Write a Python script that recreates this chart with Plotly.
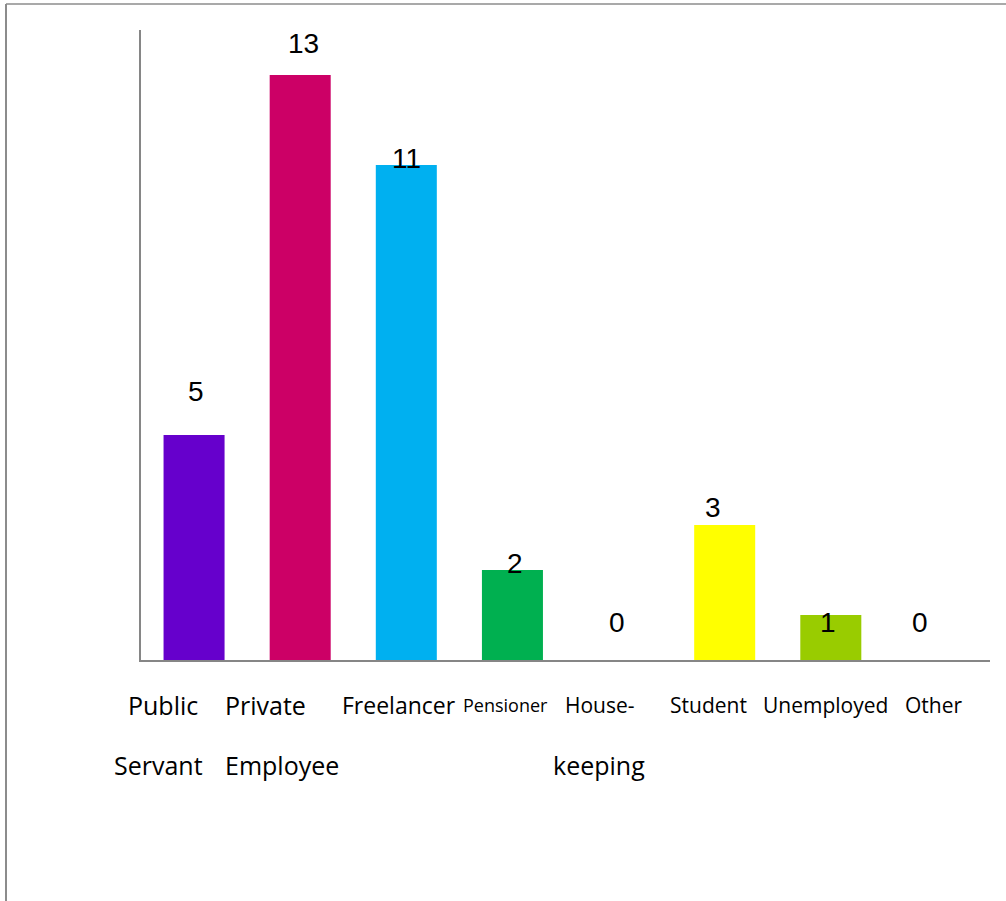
import plotly.graph_objects as go

# Occupation survey counts
categories = ["Public Servant", "Private Employee", "Freelancer", "Pensioner",
              "House-keeping", "Student", "Unemployed", "Other"]
counts = [5, 13, 11, 2, 0, 3, 1, 0]
bar_colors = ["#6600CC", "#CC0066", "#00B0F0", "#00B050",
              "#7F7F7F", "#FFFF00", "#99CC00", "#7F7F7F"]

# Two-line category captions under the axis
caption_line1 = ["Public", "Private", "Freelancer", "Pensioner",
                 "House-", "Student", "Unemployed", "Other"]
caption_line2 = ["Servant", "Employee", "", "", "keeping", "", "", ""]

# Text placement tweaks (pixels)
value_dy = [44, 32, 7, 7, 38, 18, -7, 38]
value_dx = [1.5, 3.5, 0, 2.5, -1.5, -11.5, -2.5, -16.5]
cap1_dx = [-31.5, -34.5, -7.5, -6.5, -18.5, -16.5, -5.5, -3.5]
cap1_size = [25, 25, 23, 18, 21, 21, 21, 21]
cap2_dx = [-36, -18, 0, 0, -19.5, 0, 0, 0]
cap2_size = [25, 25, 25, 25, 25, 25, 25, 25]

W, H = 1006, 901
L, R, T, B = 141, 990, 30, 660


def px_x(px):
    return (px - L) / (R - L)


def px_y(py):
    return (B - py) / (B - T)


fig = go.Figure()
fig.add_trace(go.Bar(
    x=list(range(len(categories))),
    y=counts,
    marker=dict(color=bar_colors, line=dict(width=0)),
    width=0.575,
    hovertext=categories,
))

value_font = dict(family="Liberation Sans, Arial, sans-serif", size=28, color="#000000")
for i, v in enumerate(counts):
    fig.add_annotation(
        x=i, y=v, xref="x", yref="y", text=str(v), showarrow=False,
        xanchor="center", yanchor="middle",
        xshift=value_dx[i], yshift=value_dy[i], font=value_font,
    )

cap_family = "Open Sans, Noto Sans, sans-serif"
for i in range(len(categories)):
    fig.add_annotation(
        x=i, y=0, xref="x", yref="paper", text=caption_line1[i], showarrow=False,
        xanchor="center", yanchor="middle", xshift=cap1_dx[i], yshift=-45,
        font=dict(family=cap_family, size=cap1_size[i], color="#000000"),
    )
    if caption_line2[i]:
        fig.add_annotation(
            x=i, y=0, xref="x", yref="paper", text=caption_line2[i], showarrow=False,
            xanchor="center", yanchor="middle", xshift=cap2_dx[i], yshift=-105,
            font=dict(family=cap_family, size=cap2_size[i], color="#000000"),
        )

# Outer frame (top and left edges)
fig.add_shape(type="line", xref="paper", yref="paper",
              x0=px_x(6), x1=px_x(1010), y0=px_y(4), y1=px_y(4),
              line=dict(color="#8C8C8C", width=1.5))
fig.add_shape(type="line", xref="paper", yref="paper",
              x0=px_x(6), x1=px_x(6), y0=px_y(4), y1=px_y(905),
              line=dict(color="#8C8C8C", width=2))

fig.update_layout(
    width=W, height=H,
    margin=dict(l=L, r=W - R, t=T, b=H - B),
    paper_bgcolor="#FFFFFF", plot_bgcolor="#FFFFFF",
    showlegend=False,
    bargap=0.425,
    xaxis=dict(range=[-0.5, len(categories) - 0.5], showline=True,
               linecolor="#868686", linewidth=1.5, showgrid=False,
               zeroline=False, showticklabels=False, ticks=""),
    yaxis=dict(range=[0, 14], showline=True, linecolor="#868686",
               linewidth=1.5, showgrid=False, zeroline=False,
               showticklabels=False, ticks=""),
)

fig.write_html("out.html")
